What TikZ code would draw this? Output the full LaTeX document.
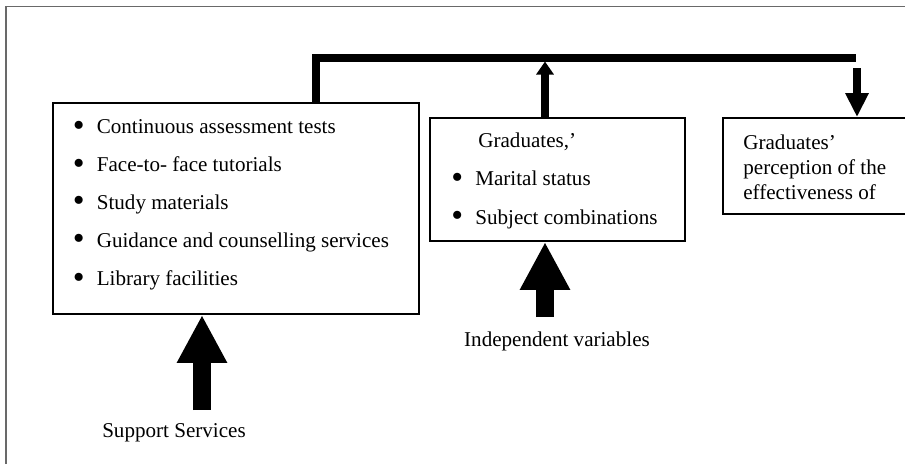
\documentclass[tikz,border=0pt]{standalone}
\usepackage{fontspec}
\setmainfont{Liberation Serif}
\usetikzlibrary{arrows.meta}
\definecolor{framegray}{RGB}{105,105,105}
\newcommand{\bitem}[1]{\makebox[0.48cm][l]{\raisebox{-0.3ex}{\scalebox{1.6}{\textbullet}}}#1}
\begin{document}
\begin{tikzpicture}[x=0.02cm, y=-0.02cm, font=\fontsize{12}{14.2}\selectfont,
  box/.style={draw, line width=1.1pt, inner sep=0pt},
  txt/.style={anchor=west, inner sep=0pt},
  bar/.style={line width=4pt, line join=miter},
  bigarrow/.style={line width=9.7pt, -{Triangle[width=0.94cm, length=0.96cm]}}]
  \clip (0,0) rectangle (905,464);
  \draw[framegray, line width=0.9pt] (6,464) -- (6,6.5) -- (905,6.5);
  % boxes
  \node[box, minimum width=7.32cm, minimum height=4.22cm] (support) at (236,208.5) {};
  \node[box, minimum width=5.1cm, minimum height=2.46cm] (gradvars) at (557.5,179.5) {};
  \node[box, minimum width=4.04cm, minimum height=1.92cm] (percept) at (824,166) {};
  % box texts
  \foreach \t [count=\i] in {Continuous assessment tests, Face-to- face tutorials,
      Study materials, Guidance and counselling services, Library facilities}
    \node[txt] (ss\i) at (72.5,90+38*\i) {\bitem{\t}};
  \node[txt] (gv0) at (478,142) {Graduates,’};
  \node[txt] (gv1) at (451,180) {\bitem{Marital status}};
  \node[txt] (gv2) at (451,219) {\bitem{Subject combinations}};
  \node[txt, align=left] (pc) at (743,167) {Graduates’\\perception of the\\effectiveness of};
  % labels
  \node (ivlabel) at (557,341) {Independent variables};
  \node (sslabel) at (174,433) {Support Services};
  % connectors
  \coordinate (barL) at (316,58);
  \coordinate (barR) at (856,58);
  \coordinate (upx) at (545,58);
  \coordinate (downtop) at (857,68);
  \coordinate (ivfoot) at (545,317);
  \coordinate (ssfoot) at (202,410);
  \draw[bar] (support.north -| barL) -- (barL) -- (barR);
  \draw[bar, shorten >=2pt, -{Triangle[width=0.34cm, length=0.26cm]}] (gradvars.north -| upx) -- (upx);
  \draw[line width=4.5pt, -{Triangle[width=0.44cm, length=0.48cm]}] (downtop) -- (percept.north -| downtop);
  \draw[bigarrow] (ivfoot) -- (gradvars.south -| ivfoot);
  \draw[bigarrow] (ssfoot) -- (support.south -| ssfoot);
\end{tikzpicture}
\end{document}
